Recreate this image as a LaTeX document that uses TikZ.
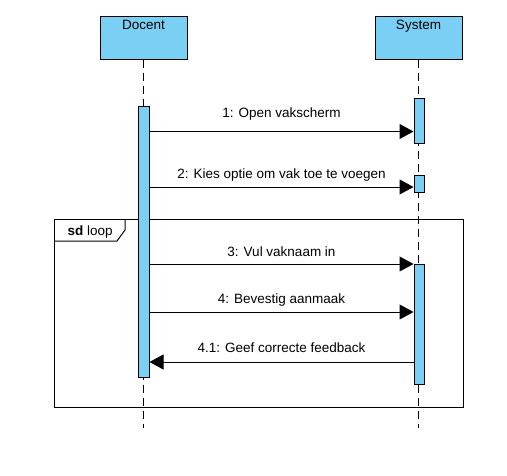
\documentclass[tikz,border=0pt]{standalone}
\usepackage{fontspec}
\setmainfont{Liberation Sans}
\usepackage{xcolor}
\usetikzlibrary{arrows.meta}
\definecolor{lifeblue}{RGB}{122,207,245}

\begin{document}
\begin{tikzpicture}[
    x=1pt, y=-1pt,
    >={Triangle[length=14pt,width=15pt]},
    line width=1pt,
    every node/.style={font=\fontsize{13.5}{16}\selectfont},
    head/.style={draw, fill=lifeblue, minimum width=87pt, minimum height=43pt, inner sep=0pt},
    bar/.style={draw, fill=lifeblue, minimum width=10pt, inner sep=0pt},
    lifeline/.style={dash pattern=on 8pt off 5pt},
    msglabel/.style={midway, anchor=base, yshift=9pt}
  ]
    \useasboundingbox (0,0) rectangle (507,475);

    % loop frame
    \draw (54,219) rectangle (463,407);
    \draw (54,241) -- (117,241) -- (125,230) -- (125,219);
    \node[anchor=base west, inner sep=0pt] (looplabel) at (67,235) {\textbf{sd} loop};

    % lifelines
    \node[head, label={[anchor=north, inner sep=0pt, yshift=-4pt]north:Docent}] (docent) at (143.5,37.5) {};
    \node[head, label={[anchor=north, inner sep=0pt, yshift=-4pt]north:System}] (system) at (418.5,37.5) {};
    \coordinate (bottom) at (0,428);
    \draw[lifeline] (docent.south) -- (docent.south |- bottom);
    \draw[lifeline] (system.south) -- (system.south |- bottom);

    % activations
    \node[bar, minimum width=11pt, minimum height=271pt] (dact) at (143.5,241.5) {};
    \node[bar, minimum height=45pt] (sact1) at (419,120.5) {};
    \node[bar, minimum height=17pt] (sact2) at (419,183.5) {};
    \node[bar, minimum height=120pt] (sact3) at (419,324) {};

    % messages
    \coordinate (m1) at (0,131.5);
    \coordinate (m2) at (0,187);
    \coordinate (m3) at (0,264);
    \coordinate (m4) at (0,312);
    \coordinate (m41) at (0,362);
    \draw[->] (dact.east |- m1) -- node[msglabel, yshift=5pt] {1: Open vakscherm} (sact1.west |- m1);
    \draw[->] (dact.east |- m2) -- node[msglabel] {2: Kies optie om vak toe te voegen} (sact2.west |- m2);
    \draw[->] (dact.east |- m3) -- node[msglabel, yshift=-1pt] {3: Vul vaknaam in} (sact3.west |- m3);
    \draw[->] (dact.east |- m4) -- node[msglabel] {4: Bevestig aanmaak} (sact3.west |- m4);
    \draw[->] (sact3.west |- m41) -- node[msglabel, yshift=1pt] {4.1: Geef correcte feedback} (dact.east |- m41);
  \end{tikzpicture}
\end{document}
